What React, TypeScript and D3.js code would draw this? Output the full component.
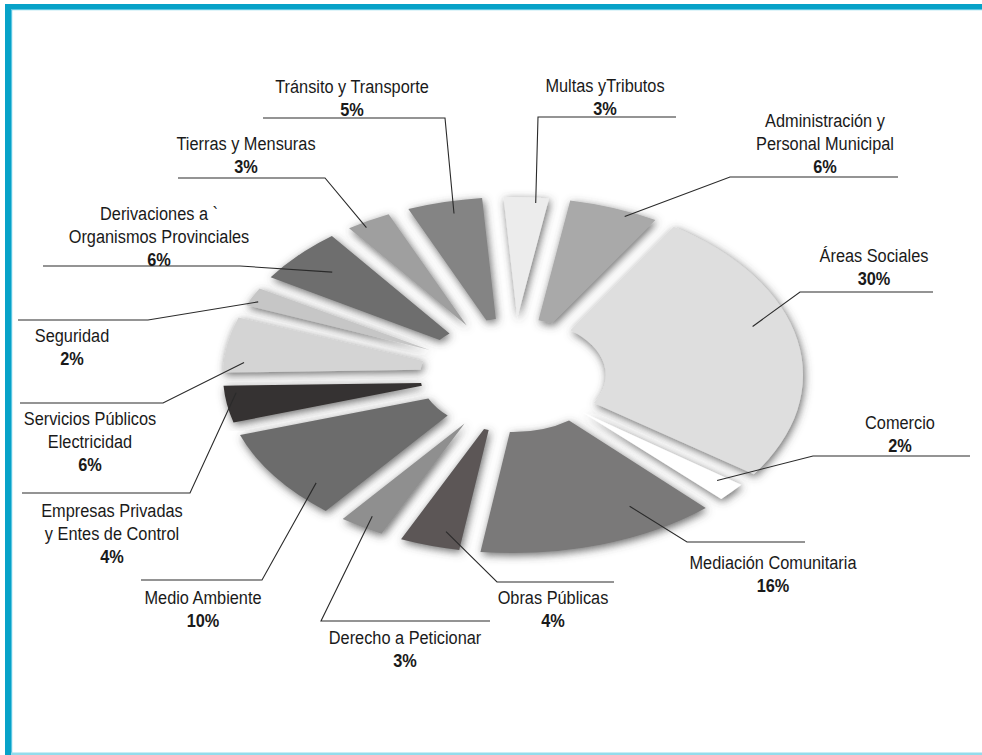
import * as d3 from "d3";

// slices, clockwise from the top
const categories = [
  "Multas y Tributos",
  "Administración y Personal Municipal",
  "Áreas Sociales",
  "Comercio",
  "Mediación Comunitaria",
  "Obras Públicas",
  "Derecho a Peticionar",
  "Medio Ambiente",
  "Empresas Privadas y Entes de Control",
  "Servicios Públicos Electricidad",
  "Seguridad",
  "Derivaciones a Organismos Provinciales",
  "Tierras y Mensuras",
  "Tránsito y Transporte",
];
const values = [3, 6, 30, 2, 16, 4, 3, 10, 4, 6, 2, 6, 3, 5];
const fills = [
  "#ececec", "#a9a9a9", "#dedede", "#ffffff", "#7a7979", "#5b5757", "#8f8f8f",
  "#6c6c6c", "#353130", "#d4d4d4", "#c6c6c6", "#6e6e6e", "#9f9f9f", "#848484",
];
const labelLines = [
  ["Multas yTributos"],
  ["Administración y", "Personal Municipal"],
  ["Áreas Sociales"],
  ["Comercio"],
  ["Mediación Comunitaria"],
  ["Obras Públicas"],
  ["Derecho a Peticionar"],
  ["Medio Ambiente"],
  ["Empresas Privadas", "y Entes de Control"],
  ["Servicios Públicos", "Electricidad"],
  ["Seguridad"],
  ["Derivaciones a `", "Organismos Provinciales"],
  ["Tierras y Mensuras"],
  ["Tránsito y Transporte"],
];

// label placement: text centre / first baseline, underline, which end meets the leader
const labelLayout = [
  { tx: 605, ty: 92, ly: 117, x1: 538, x2: 676, side: "left", dA: 2, rf: 0.97 },
  { tx: 825, ty: 127, ly: 177, x1: 730, x2: 898, side: "left", dA: 3, rf: 0.97 },
  { tx: 874, ty: 262, ly: 292, x1: 800, x2: 933, side: "left", dA: -7, rf: 0.87 },
  { tx: 900, ty: 429, ly: 456, x1: 813, x2: 970, side: "left", dA: -1, rf: 0.92 },
  { tx: 773, ty: 569, ly: 542, x1: 687, x2: 805, side: "left", dA: -11, rf: 0.84 },
  { tx: 553, ty: 604, ly: 582, x1: 497, x2: 614, side: "left", dA: -2, rf: 0.91 },
  { tx: 405, ty: 644, ly: 621, x1: 321, x2: 490, side: "left", dA: 0, rf: 0.93 },
  { tx: 203, ty: 604, ly: 580, x1: 141, x2: 262, side: "right", dA: -7, rf: 0.91 },
  { tx: 112, ty: 517, ly: 493, x1: 22, x2: 190, side: "right", dA: 3.5, rf: 0.96 },
  { tx: 90, ty: 425, ly: 403, x1: 20, x2: 163, side: "right", dA: -5.5, rf: 0.93 },
  { tx: 72, ty: 342, ly: 320, x1: 18, x2: 148, side: "right", dA: -1, rf: 0.97 },
  { tx: 159, ty: 220, ly: 266, x1: 43, x2: 240, side: "right", dA: 0.5, rf: 0.85 },
  { tx: 246, ty: 150, ly: 178, x1: 178, x2: 325, side: "right", dA: -1.5, rf: 0.97 },
  { tx: 352, ty: 93, ly: 118, x1: 263, x2: 445, side: "right", dA: 1, rf: 0.93 },
];

const width = 982;
const height = 755;
const cx = 513;
const cy = 375;
const rx = 290;
const ry = 178;
const R = 100;
const lineGap = 23;
const squeeze = 0.86; // the original face is a narrow grotesque
const font = "'Liberation Sans', Arial, sans-serif";

export default function App() {
  const start = (-4 * Math.PI) / 180;
  const pie = d3
    .pie<number>()
    .sort(null)
    .value((d) => d)
    .startAngle(start)
    .endAngle(start + Math.PI * 2)
    .padAngle(0.074);
  const arcs = pie(values);
  const arc = d3
    .arc<d3.PieArcDatum<number>>()
    .innerRadius(R * 0.32)
    .outerRadius(R)
    .padRadius(R);

  const onEllipse = (angle: number, rf: number) => [cx + Math.sin(angle) * rf * rx, cy - Math.cos(angle) * rf * ry];

  return (
    <svg width={width} height={height} style={{ position: "absolute", left: 0, top: 0, background: "#fff" }}>
      <defs>
        <filter id="halo" x="-20%" y="-20%" width="140%" height="140%">
          <feDropShadow dx="1.5" dy="2.5" stdDeviation="4.5" floodColor="#444" floodOpacity="0.8" />
        </filter>
      </defs>

      {/* frame */}
      <rect x={6} y={4} width={width - 6} height={5} fill="#07a2c8" />
      <rect x={11} y={9} width={width - 11} height={1.2} fill="#5cc6e2" />
      <rect x={5} y={4} width={6} height={height - 4} fill="#07a2c8" />
      <rect x={11} y={10} width={1.2} height={height - 10} fill="#5cc6e2" />
      <rect x={11} y={height - 2.5} width={width - 11} height={2.5} fill="#93dcec" />

      {arcs.map((a, i) => (
        <g key={categories[i]} filter="url(#halo)">
          <path d={arc(a) ?? ""} fill={fills[i]} transform={`translate(${cx},${cy}) scale(${rx / R},${ry / R})`} />
        </g>
      ))}

      {arcs.map((a, i) => {
        const l = labelLayout[i];
        const mid = (a.startAngle + a.endAngle) / 2 + (l.dA * Math.PI) / 180;
        const [px, py] = onEllipse(mid, l.rf);
        const ex = l.side === "left" ? l.x1 : l.x2;
        const lines = labelLines[i];
        return (
          <g key={`label-${i}`} fontFamily={font} fontSize={19} fill="#1a1a1a" textAnchor="middle">
            <polyline
              points={`${px},${py} ${ex},${l.ly} ${l.side === "left" ? l.x2 : l.x1},${l.ly}`}
              fill="none"
              stroke="#2a2a2a"
              strokeWidth={1.1}
            />
            {lines.map((t, j) => (
              <text key={t} transform={`translate(${l.tx},${l.ty + j * lineGap}) scale(${squeeze},1)`}>
                {t}
              </text>
            ))}
            <text
              transform={`translate(${l.tx},${l.ty + lines.length * lineGap}) scale(${squeeze},1)`}
              fontWeight="bold"
            >
              {values[i]}%
            </text>
          </g>
        );
      })}
    </svg>
  );
}
